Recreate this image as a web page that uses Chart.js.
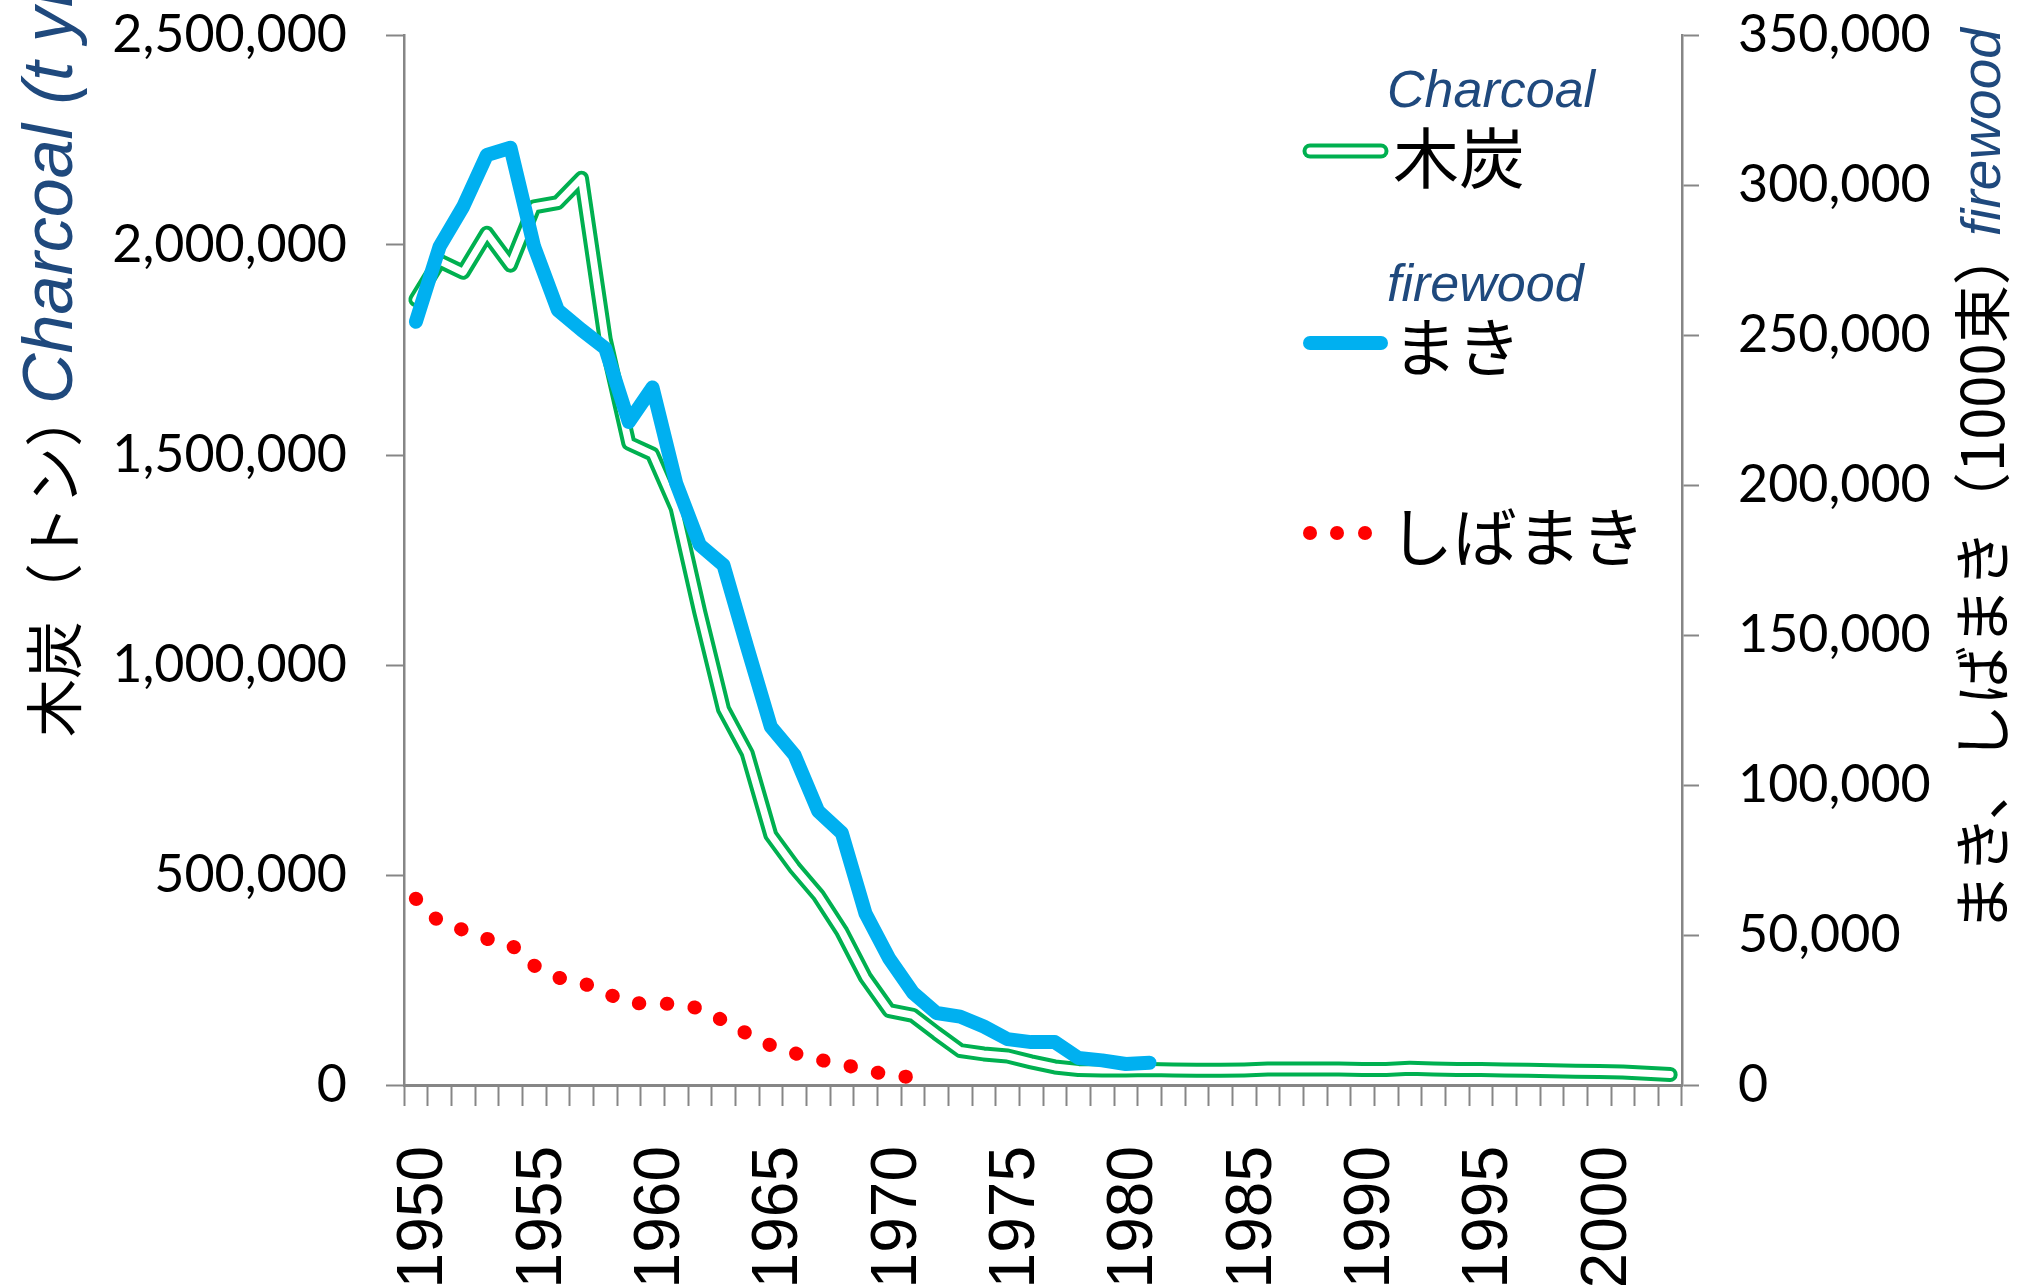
<!DOCTYPE html>
<html lang="ja">
<head>
<meta charset="utf-8">
<title>木炭・まき・しばまき</title>
<script src="https://cdn.jsdelivr.net/npm/chart.js@4.4.1/dist/chart.umd.min.js"></script>
<style>
  html, body { margin: 0; padding: 0; background: #fff; }
  #chart { display: block; }
</style>
</head>
<body>
<canvas id="chart" width="2029" height="1285"></canvas>
<script>
// categories
const years = ['1950','1951','1952','1953','1954','1955','1956','1957','1958','1959',
  '1960','1961','1962','1963','1964','1965','1966','1967','1968','1969',
  '1970','1971','1972','1973','1974','1975','1976','1977','1978','1979',
  '1980','1981','1982','1983','1984','1985','1986','1987','1988','1989',
  '1990','1991','1992','1993','1994','1995','1996','1997','1998','1999',
  '2000','2001','2002','2003'];

// 木炭 (t), left axis
const charcoal = [1870000, 1962000, 1935000, 2028000, 1952000, 2091000, 2101000, 2159000, 1776000, 1528000,
  1502000, 1373000, 1125000, 895000, 790000, 595000, 518000, 452000, 365000, 256000,
  177000, 166000, 123000, 82000, 74000, 69000, 55000, 43000, 37000, 36000,
  36000, 37000, 36000, 35000, 35000, 36000, 38000, 38000, 38000, 38000,
  37000, 37000, 40000, 38000, 37000, 37000, 36000, 35000, 34000, 33000,
  32000, 31000, 28000, 25000];

// まき (1000 bundles), right axis
const firewood = [254400, 279400, 292800, 310000, 312400, 279400, 258300, 251700, 245600, 221000,
  232500, 200600, 180000, 173300, 146000, 119400, 110000, 91300, 84000, 57200,
  42200, 30800, 24000, 22800, 19500, 15300, 14300, 14300, 9000, 8200,
  7000, 7400];

// しばまき (1000 bundles), right axis
const shibamaki = [62100, 54300, 51700, 48700, 47000, 39800, 35800, 34200, 30800, 27400,
  27000, 27100, 25500, 21400, 17100, 13200, 10600, 8500, 6900, 5100,
  3200, 2600];

// tick values
const leftTicks = [0, 500000, 1000000, 1500000, 2000000, 2500000];
const rightTicks = [0, 50000, 100000, 150000, 200000, 250000, 300000, 350000];
const yearStep = 5;

const GRAY = '#868686';
const GREEN = '#00B050';
const BLUE = '#00B0F0';
const RED = '#FF0000';
const NAVY = '#1F497D';
const JP = '"Noto Sans CJK JP", sans-serif';
const EN = '"Liberation Sans", Arial, sans-serif';

function rotText(ctx, text, x, y, font, color, baseline) {
  ctx.save();
  ctx.translate(x, y);
  ctx.rotate(-Math.PI / 2);
  ctx.font = font;
  ctx.fillStyle = color;
  ctx.textAlign = 'left';
  ctx.textBaseline = baseline;
  ctx.fillText(text, 0, 0);
  ctx.restore();
}

function flatText(ctx, text, x, y, font, color) {
  ctx.save();
  ctx.font = font;
  ctx.fillStyle = color;
  ctx.textAlign = 'left';
  ctx.textBaseline = 'middle';
  ctx.fillText(text, x, y);
  ctx.restore();
}

function sampleLine(ctx, x1, x2, y, color, width) {
  ctx.save();
  ctx.strokeStyle = color;
  ctx.lineWidth = width;
  ctx.lineCap = 'round';
  ctx.beginPath();
  ctx.moveTo(x1, y);
  ctx.lineTo(x2, y);
  ctx.stroke();
  ctx.restore();
}

// keep the plot box where the reference has it
function noPad(scale) {
  scale.paddingTop = 0;
  scale.paddingBottom = 0;
  scale.paddingLeft = 0;
  scale.paddingRight = 0;
}

// axis titles and the bilingual legend
const decorations = {
  id: 'decorations',
  afterDraw(chart) {
    const ctx = chart.ctx;
    // left title
    rotText(ctx, '木炭（トン）', 54, 737, '58px ' + JP, '#000', 'middle');
    rotText(ctx, 'Charcoal (t yr⁻¹)', 72, 404, 'italic 70px ' + EN, NAVY, 'alphabetic');
    // right title
    rotText(ctx, 'まき、しばまき（1000束）', 1982, 932, '58px ' + JP, '#000', 'middle');
    rotText(ctx, 'firewood', 2000, 236, 'italic 55px ' + EN, NAVY, 'alphabetic');

    // legend
    flatText(ctx, 'Charcoal', 1387, 93, 'italic 52px ' + EN, NAVY);
    sampleLine(ctx, 1310, 1381, 151, GREEN, 15);
    sampleLine(ctx, 1310, 1381, 151, '#fff', 7);
    flatText(ctx, '木炭', 1393, 158, '66px ' + JP, '#000');

    flatText(ctx, 'firewood', 1387, 287, 'italic 52px ' + EN, NAVY);
    sampleLine(ctx, 1310, 1381, 343, BLUE, 14);
    flatText(ctx, 'まき', 1393, 347, '64px ' + JP, '#000');

    ctx.save();
    ctx.fillStyle = RED;
    [1310, 1337, 1365].forEach(function(x) {
      ctx.beginPath();
      ctx.arc(x, 533, 7, 0, Math.PI * 2);
      ctx.fill();
    });
    ctx.restore();
    flatText(ctx, 'しばまき', 1389, 537, '64px ' + JP, '#000');
  }
};

const ctx = document.getElementById('chart').getContext('2d');
const chart = new Chart(ctx, {
  type: 'line',
  data: {
    labels: years,
    datasets: [
      {
        label: 'まき',
        data: firewood,
        yAxisID: 'y1',
        borderColor: BLUE,
        borderWidth: 14,
        borderCapStyle: 'round',
        borderJoinStyle: 'round',
        order: 0
      },
      {
        label: '木炭 inner',
        data: charcoal,
        yAxisID: 'y',
        borderColor: '#ffffff',
        borderWidth: 7,
        borderCapStyle: 'round',
        borderJoinStyle: 'round',
        order: 1
      },
      {
        label: '木炭',
        data: charcoal,
        yAxisID: 'y',
        borderColor: GREEN,
        borderWidth: 15,
        borderCapStyle: 'round',
        borderJoinStyle: 'round',
        order: 2
      },
      {
        label: 'しばまき',
        data: shibamaki,
        yAxisID: 'y1',
        borderColor: RED,
        borderWidth: 14,
        borderDash: [0.5, 27.5],
        borderCapStyle: 'round',
        order: 3
      }
    ]
  },
  options: {
    responsive: false,
    devicePixelRatio: 1,
    animation: false,
    events: [],
    layout: { padding: { top: 35, left: 0, right: 0, bottom: 0 } },
    elements: {
      point: { radius: 0 },
      line: { tension: 0, fill: false }
    },
    plugins: {
      legend: { display: false },
      tooltip: { enabled: false }
    },
    scales: {
      x: {
        type: 'category',
        offset: true,
        grid: { offset: true, drawOnChartArea: false, drawTicks: true, tickLength: 21, tickColor: GRAY, tickWidth: 2 },
        border: { color: GRAY, width: 3 },
        ticks: {
          autoSkip: false,
          minRotation: 90,
          maxRotation: 90,
          padding: 40,
          labelOffset: 9,
          color: '#000',
          font: { family: EN, size: 64 },
          callback: function(val, i) {
            return Number(years[i]) % yearStep === 0 ? years[i] : '';
          }
        },
        afterFit: function(scale) { scale.height = 200; noPad(scale); }
      },
      y: {
        position: 'left',
        min: leftTicks[0],
        max: leftTicks[leftTicks.length - 1],
        grid: { drawOnChartArea: false, tickLength: 18, tickColor: GRAY, tickWidth: 2 },
        border: { color: GRAY, width: 2.5 },
        ticks: {
          stepSize: leftTicks[1] - leftTicks[0],
          padding: 39,
          color: '#000',
          font: { family: 'Lato', size: 52 },
          callback: function(v) { return v.toLocaleString('en-US'); }
        },
        afterFit: function(scale) { scale.width = 404; noPad(scale); }
      },
      y1: {
        position: 'right',
        min: rightTicks[0],
        max: rightTicks[rightTicks.length - 1],
        grid: { drawOnChartArea: false, tickLength: 17, tickColor: GRAY, tickWidth: 2 },
        border: { color: GRAY, width: 2.5 },
        ticks: {
          stepSize: rightTicks[1] - rightTicks[0],
          padding: 39,
          color: '#000',
          font: { family: 'Lato', size: 52 },
          callback: function(v) { return v.toLocaleString('en-US'); }
        },
        afterFit: function(scale) { scale.width = 347; noPad(scale); }
      }
    }
  },
  plugins: [decorations]
});
</script>
</body>
</html>
